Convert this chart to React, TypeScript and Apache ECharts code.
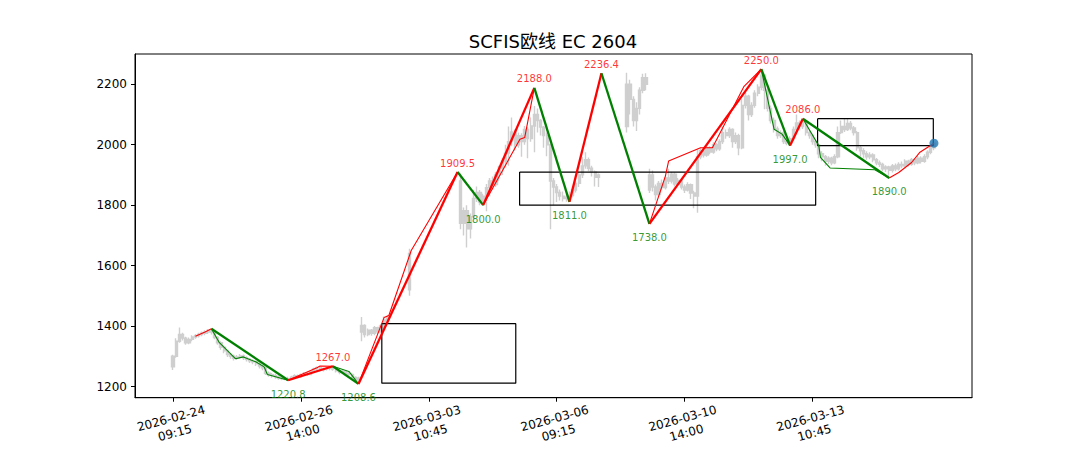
import React, { useEffect, useRef } from "react";
import * as echarts from "echarts";

const TITLE = "SCFIS欧线 EC 2604";
const xTickIdx = [0, 40, 80, 120, 160, 200];
const xTickLabels = [
  "2026-02-24\n09:15",
  "2026-02-26\n14:00",
  "2026-03-03\n10:45",
  "2026-03-06\n09:15",
  "2026-03-10\n14:00",
  "2026-03-13\n10:45",
];
const yTicks = [1200, 1400, 1600, 1800, 2000, 2200];

// one entry per 15-minute bar: [open, close, low, high]; null = no bar visible
type Bar = [number, number, number, number] | null;
const bars: Bar[] = [
  [1265, 1300, 1255, 1305], [1300, 1350, 1295, 1360], [1350, 1372, 1345, 1395], [1372, 1360, 1352, 1378],
  [1360, 1345, 1338, 1365], [1345, 1356, 1340, 1362], [1356, 1364, 1350, 1370], [1364, 1368, 1358, 1374],
  [1368, 1372, 1362, 1378], [1372, 1376, 1366, 1382], [1376, 1380, 1370, 1386], [1380, 1385, 1374, 1390],
  [1385, 1380, 1372, 1391], [1380, 1362, 1356, 1384], [1362, 1345, 1338, 1366], [1345, 1330, 1322, 1350],
  [1330, 1318, 1310, 1336], [1318, 1306, 1298, 1322], [1306, 1300, 1292, 1312], [1300, 1293, 1286, 1306],
  [1293, 1298, 1288, 1304], [1298, 1301, 1292, 1308], [1301, 1295, 1288, 1306], [1295, 1290, 1283, 1300],
  [1290, 1285, 1278, 1294], [1285, 1282, 1274, 1290], [1282, 1275, 1268, 1286], [1275, 1268, 1260, 1280],
  [1268, 1262, 1254, 1272], [1262, 1244, 1238, 1266], [1244, 1239, 1232, 1250], [1239, 1236, 1229, 1245],
  [1236, 1232, 1226, 1242], [1232, 1228, 1222, 1238], [1228, 1226, 1221, 1234], [1226, 1224, 1221, 1231],
  [1224, 1226, 1220.8, 1232], [1226, 1231, 1222, 1236], [1231, 1236, 1227, 1241], [1236, 1232, 1227, 1240],
  [1232, 1238, 1228, 1243], [1238, 1243, 1234, 1248], [1243, 1240, 1235, 1248], [1240, 1249, 1237, 1254],
  [1249, 1258, 1245, 1262], [1258, 1262, 1252, 1266], [1262, 1255, 1250, 1266], [1255, 1258, 1250, 1263],
  [1258, 1260, 1253, 1265], [1260, 1262, 1254, 1266], [1262, 1258, 1252, 1267], [1258, 1252, 1246, 1262],
  [1252, 1247, 1241, 1256], [1247, 1250, 1242, 1255], [1250, 1244, 1238, 1253], [1244, 1240, 1233, 1248],
  [1240, 1230, 1224, 1244], [1230, 1222, 1214, 1234], [1222, 1228, 1208.6, 1232], [1380, 1402, 1350, 1430],
  [1402, 1372, 1362, 1406], [1372, 1386, 1366, 1392], [1386, 1376, 1368, 1390], [1376, 1395, 1370, 1400],
  [1395, 1381, 1374, 1398], [1381, 1400, 1376, 1406], [1400, 1420, 1394, 1432], [1420, 1430, 1412, 1436],
  null, null, null, null, null, null,
  [1520, 1640, 1500, 1656],
  null, null, null, null, null, null, null, null, null, null, null, null, null, null, null,
  [1880, 1740, 1720, 1905], [1740, 1782, 1700, 1792], [1782, 1722, 1660, 1800], [1722, 1762, 1690, 1772],
  [1762, 1822, 1750, 1850], [1822, 1842, 1810, 1862], [1842, 1810, 1800, 1850], [1810, 1830, 1800, 1838],
  [1830, 1858, 1780, 1870], [1858, 1880, 1830, 1890], [1880, 1868, 1850, 1895], [1868, 1900, 1860, 1910],
  [1900, 1922, 1880, 1930], [1922, 1946, 1900, 1955], [1946, 1972, 1925, 2000], [1972, 2010, 1930, 2060],
  [2010, 2042, 1995, 2090], [2042, 2000, 1980, 2050], [2000, 2030, 1990, 2040], [2030, 2010, 1960, 2038],
  [2010, 2050, 2000, 2062], [2050, 2020, 1955, 2058], [2020, 2062, 2010, 2090], [2062, 2100, 1975, 2128],
  [2100, 2080, 2040, 2120], [2080, 2058, 2030, 2085], [2058, 2030, 1990, 2062], [2030, 2000, 1962, 2040],
  [2000, 1880, 1720, 2005], [1880, 1860, 1800, 1890], [1860, 1842, 1810, 1870], [1842, 1830, 1815, 1852],
  [1830, 1822, 1812, 1845], [1822, 1826, 1811, 1838], [1826, 1832, 1815, 1845], [1832, 1850, 1825, 1862],
  [1850, 1872, 1842, 1880], [1872, 1900, 1860, 1912], [1900, 1930, 1890, 1960], [1930, 1950, 1920, 1975],
  [1950, 1922, 1912, 1958], [1922, 1910, 1895, 1930], [1910, 1892, 1862, 1915], [1892, 1900, 1860, 1905],
  null, null, null, null, null, null, null, null,
  [2060, 2200, 2040, 2238], [2200, 2150, 2100, 2215], [2150, 2080, 2060, 2160], [2080, 2120, 2045, 2140],
  [2120, 2180, 2100, 2190], [2180, 2222, 2170, 2235], [2222, 2200, 2180, 2236], [1850, 1900, 1840, 1920],
  [1900, 1860, 1845, 1915], [1860, 1835, 1815, 1868], [1835, 1872, 1828, 1880], [1872, 1858, 1850, 1885],
  [1858, 1890, 1852, 1898], [1890, 1880, 1870, 1920], [1880, 1902, 1872, 1910], [1902, 1870, 1862, 1908],
  [1870, 1882, 1864, 1890], [1882, 1860, 1852, 1888], [1860, 1850, 1840, 1868], [1850, 1868, 1845, 1876],
  [1868, 1840, 1820, 1872], [1840, 1830, 1790, 1848], [1830, 1960, 1775, 1985], [1960, 1980, 1952, 1990],
  [1980, 1966, 1958, 1988], [1966, 1990, 1960, 1998], [1990, 1976, 1968, 1995], [1976, 2000, 1970, 2008],
  [2000, 1986, 1978, 2006], [1986, 2010, 1980, 2018], [2010, 2040, 2002, 2060], [2040, 2030, 2020, 2050],
  [2030, 2050, 2022, 2058], [2050, 2010, 1990, 2054], [2010, 2030, 2002, 2040], [2030, 1990, 1965, 2036],
  [1990, 2130, 1985, 2150], [2130, 2160, 2120, 2175], [2160, 2100, 2080, 2165], [2100, 2130, 2092, 2140],
  [2130, 2170, 2122, 2180], [2170, 2190, 2160, 2200], [2190, 2230, 2180, 2250], [2230, 2180, 2117, 2235],
  [2180, 2120, 2110, 2190], [2120, 2080, 2070, 2130], [2080, 2052, 2040, 2090], [2052, 2030, 2020, 2060],
  [2030, 2040, 2022, 2048], [2040, 2010, 2002, 2046], [2010, 2005, 1998, 2020], [2005, 2020, 1997, 2028],
  [2020, 2050, 2012, 2060], [2050, 2072, 2040, 2100], [2072, 2060, 2050, 2080], [2060, 2075, 2052, 2086],
  [2075, 2040, 2030, 2080], [2040, 2030, 2020, 2048], [2030, 2010, 2000, 2036], [2010, 2000, 1990, 2016],
  [2000, 1970, 1955, 2005], [1970, 1960, 1945, 1978], [1960, 1945, 1930, 1966], [1945, 1955, 1935, 1962],
  [1955, 1940, 1932, 1960], [1940, 1960, 1935, 1968], [1960, 2040, 1955, 2060], [2040, 2060, 2035, 2080],
  [2060, 2050, 2042, 2085], [2050, 2070, 2045, 2085], [2070, 2055, 2048, 2078], [2055, 2040, 2030, 2062],
  [2040, 1990, 1980, 2045], [1990, 1980, 1960, 1998], [1980, 1970, 1955, 1988], [1970, 1960, 1950, 1978],
  [1960, 1966, 1952, 1975], [1966, 1950, 1942, 1972], [1950, 1940, 1932, 1956], [1940, 1935, 1926, 1948],
  [1935, 1920, 1912, 1940], [1920, 1926, 1910, 1932], [1926, 1915, 1890, 1930], [1915, 1930, 1908, 1936],
  [1930, 1920, 1912, 1938], [1920, 1935, 1915, 1942], [1935, 1930, 1922, 1944], [1930, 1945, 1925, 1952],
  [1945, 1935, 1928, 1950], [1935, 1950, 1930, 1956], [1950, 1940, 1932, 1956], [1940, 1955, 1935, 1962],
  [1955, 1945, 1938, 1962], [1945, 1960, 1940, 1968], [1960, 1975, 1952, 1982], [1975, 1990, 1968, 1996],
  [1990, 2005, 1982, 2012],
];

// stroke (bi) turning points: bar index and price
const biIdx = [12, 36, 50, 58, 89, 97, 113, 124, 134, 149, 184, 193, 197, 224];
const biVal = [1391, 1220.8, 1267.0, 1208.6, 1909.5, 1800.0, 2188.0, 1811.0, 2236.4, 1738.0, 2250.0, 1997.0, 2086.0, 1890.0];

// sub-level segments (thin lines): [bar index, price]
const subLines: [number, number][][] = [
  [[7, 1366], [10, 1380], [12, 1391]],
  [[12, 1391], [14.5, 1345], [19.5, 1292], [22, 1298], [26, 1281], [28.5, 1265], [29.5, 1240], [36, 1220.8]],
  [[36, 1220.8], [45, 1262], [46, 1268], [50, 1267]],
  [[50, 1267], [55, 1250], [58, 1208.6]],
  [[58, 1208.6], [66, 1428], [67.5, 1435], [74.5, 1650], [89, 1909.5]],
  [[97, 1800], [108.5, 2018], [110, 2024], [113, 2188]],
  [[149, 1738], [154, 1896], [155, 1946], [165, 1990], [168.7, 1990], [173.8, 2094], [178.6, 2193], [184, 2250]],
  [[184, 2250], [188, 2051], [190.5, 2035], [193, 1997]],
  [[197, 2086], [202, 1996], [202.5, 1958], [205.5, 1923], [219.5, 1917], [224, 1890]],
  [[224, 1890], [227, 1908], [231, 1941], [233.5, 1974], [238, 2005]],
];

// pivot boxes: [startIdx, endIdx, low, high]
const boxes: [number, number, number, number][] = [
  [65.3, 107.2, 1211, 1408],
  [108.4, 201, 1800, 1909.5],
  [201.6, 237.8, 1997, 2086],
];

const lastPoint: [number, number] = [238, 2005];

const RED = "#ff0000";
const GREEN = "#008000";
const FONT = '"DejaVu Sans", "Noto Sans CJK SC", sans-serif';

export default function App() {
  const ref = useRef<HTMLDivElement>(null);
  useEffect(() => {
    if (!ref.current) return;
    const chart = echarts.init(ref.current, undefined, { renderer: "svg" });

    const candleData: number[][] = [];
    bars.forEach((b, i) => {
      if (b) candleData.push([i, b[0], b[1], b[2], b[3]]);
    });

    const series: any[] = [];
    series.push({
      type: "candlestick",
      data: candleData,
      encode: { x: 0, y: [1, 2, 3, 4] },
      barWidth: 2.6,
      z: 1,
      itemStyle: {
        color: "#cfcfcf",
        color0: "#cfcfcf",
        borderColor: "#cfcfcf",
        borderColor0: "#cfcfcf",
        borderWidth: 1.4,
      },
    });

    boxes.forEach((b) => {
      series.push({
        type: "line",
        data: [
          [b[0], b[3]],
          [b[1], b[3]],
          [b[1], b[2]],
          [b[0], b[2]],
          [b[0], b[3]],
        ],
        symbol: "none",
        z: 2,
        lineStyle: { color: "#000", width: 1.2 },
      });
    });

    subLines.forEach((pts) => {
      const up = pts[pts.length - 1][1] > pts[0][1];
      series.push({
        type: "line",
        data: pts,
        symbol: "none",
        z: 3,
        lineStyle: { color: up ? RED : GREEN, width: 1.1 },
      });
    });

    for (let k = 0; k < biIdx.length - 1; k++) {
      const up = biVal[k + 1] > biVal[k];
      series.push({
        type: "line",
        data: [
          [biIdx[k], biVal[k]],
          [biIdx[k + 1], biVal[k + 1]],
        ],
        symbol: "none",
        z: 4,
        lineStyle: { color: up ? RED : GREEN, width: 2.3 },
      });
    }

    const peaks: number[][] = [];
    const troughs: number[][] = [];
    for (let k = 1; k < biIdx.length; k++) {
      const isPeak = biVal[k] > biVal[k - 1];
      (isPeak ? peaks : troughs).push([biIdx[k], biVal[k]]);
    }
    const lblSeries = (data: number[][], pos: string, color: string, dist: number) => ({
      type: "scatter",
      data,
      symbolSize: 0,
      z: 5,
      label: {
        show: true,
        position: pos,
        distance: dist,
        color,
        fontSize: 10,
        fontFamily: FONT,
        formatter: (p: any) => Number(p.value[1]).toFixed(1),
      },
    });
    series.push(lblSeries(peaks, "top", RED, 4));
    series.push(lblSeries(troughs, "bottom", GREEN, 9));

    series.push({
      type: "scatter",
      data: [lastPoint],
      symbolSize: 9,
      z: 6,
      itemStyle: { color: "#1f77b4" },
    });

    chart.setOption({
      animation: false,
      backgroundColor: "#ffffff",
      textStyle: { fontFamily: FONT },
      graphic: [
        {
          type: "text",
          x: 553,
          y: 41,
          style: {
            text: TITLE,
            fill: "#000",
            fontSize: 18,
            fontFamily: FONT,
            align: "center",
            verticalAlign: "middle",
          },
        },
      ],
      grid: {
        left: 135,
        top: 54,
        width: 837,
        height: 345,
        show: true,
        borderColor: "#000",
        borderWidth: 1,
        backgroundColor: "transparent",
      },
      xAxis: {
        type: "value",
        min: -11.9,
        max: 249.9,
        splitLine: { show: false },
        axisLine: { show: true, onZero: false, lineStyle: { color: "#000", width: 1 } },
        axisTick: { show: true, customValues: xTickIdx, length: 4, lineStyle: { color: "#000" } },
        axisLabel: {
          customValues: xTickIdx,
          formatter: (v: number) => {
            const i = xTickIdx.indexOf(Math.round(v));
            return i >= 0 ? xTickLabels[i] : "";
          },
          rotate: 15,
          align: "center",
          verticalAlign: "middle",
          margin: 28,
          fontSize: 12,
          lineHeight: 15,
          color: "#000",
          fontFamily: FONT,
        },
      },
      yAxis: {
        type: "value",
        min: 1163,
        max: 2300,
        splitLine: { show: false },
        axisLine: { show: true, onZero: false, lineStyle: { color: "#000", width: 1 } },
        axisTick: { show: true, customValues: yTicks, length: 4, lineStyle: { color: "#000" } },
        axisLabel: {
          customValues: yTicks,
          formatter: (v: number) => String(Math.round(v)),
          margin: 8,
          fontSize: 12,
          color: "#000",
          fontFamily: FONT,
        },
      },
      series,
    });

    return () => {
      chart.dispose();
    };
  }, []);

  return (
    <div
      ref={ref}
      style={{ position: "fixed", left: 0, top: 0, width: 1080, height: 450, background: "#fff" }}
    />
  );
}
